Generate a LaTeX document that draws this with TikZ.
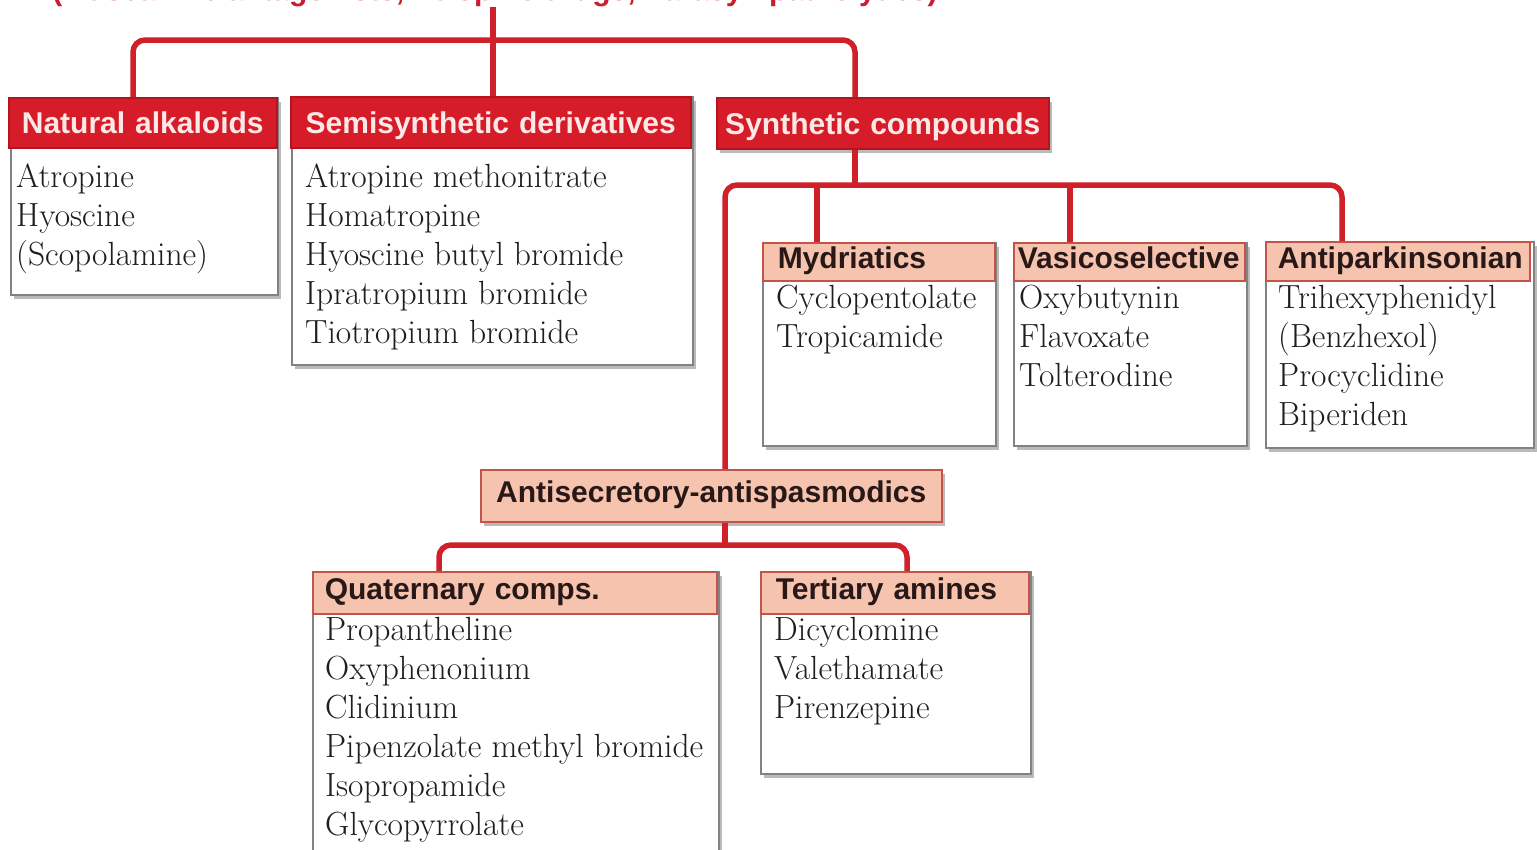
\documentclass[tikz,border=0pt]{standalone}
\usepackage{fontspec}
\newfontfamily\hsf{Liberation Sans}
\usetikzlibrary{shadows}
\definecolor{redline}{RGB}{208,32,42}
\definecolor{redhead}{RGB}{214,28,40}
\definecolor{reddark}{RGB}{180,20,30}
\definecolor{headtext}{RGB}{252,232,230}
\definecolor{pinkfill}{RGB}{246,196,174}
\definecolor{pinkborder}{RGB}{196,84,74}
\definecolor{headdark}{RGB}{40,24,24}
\definecolor{boxgray}{RGB}{130,130,130}
\definecolor{itemcol}{RGB}{30,30,30}
\definecolor{titlered}{RGB}{200,30,45}
\tikzset{
  conn/.style={draw=redline, line width=5.5pt, rounded corners=12pt},
  hdfont/.style={font=\hsf\bfseries\fontsize{30}{36}\selectfont},
  redhead/.style={hdfont, draw=reddark, line width=1.5pt, fill=redhead, text=headtext,
    anchor=north west, inner ysep=0pt, inner xsep=0pt, text height=22pt, text depth=0pt, align=center},
  pinkhead/.style={hdfont, draw=pinkborder, line width=1.5pt, fill=pinkfill, text=headdark,
    anchor=north west, inner ysep=0pt, text height=22pt, text depth=8pt, align=left},
  bodybox/.style={draw=boxgray, line width=2pt, fill=white, anchor=north west, inner sep=0pt},
  shad/.style={drop shadow={shadow xshift=3pt, shadow yshift=-4pt, fill=black!45, opacity=.6}},
  items/.style={anchor=north west, inner sep=0pt, align=left, text=itemcol,
    font=\fontsize{33.5}{39}\selectfont},
}
\begin{document}
\begin{tikzpicture}[x=1pt, y=-1pt]
\clip (0,0) rectangle (1537,849);
\fill[white] (0,0) rectangle (1537,849);

% title (cut off at the top, as in the reference)
\node[anchor=base, inner sep=0pt, text=titlered, font=\hsf\bfseries\fontsize{30}{36}\selectfont]
  (title) at (495,0.5) {(Muscarinic antagonists, Atropine drugs, Parasympatholytics)};

% junction coordinates
\coordinate (j1) at (493,40);
\coordinate (j2) at (855,185);
\coordinate (j3) at (725,545);

% ---- top level cards
\node[bodybox, shad, minimum width=267pt, minimum height=197pt] (natb) at (10,97) {};
\node[redhead, minimum width=268pt, minimum height=50pt, text width=268pt] (nat) at (8,97) {Natural alkaloids};
\node[items] (natt) at (16,159.7) {\strut Atropine\\Hyoscine\\(Scopolamine)};

\node[bodybox, shad, minimum width=401pt, minimum height=268pt] (semib) at (291,96) {};
\node[redhead, minimum width=400pt, minimum height=51pt, text width=400pt] (semi) at (290,96) {Semisynthetic derivatives};
\node[items] (semit) at (305,159.7) {\strut Atropine methonitrate\\Homatropine\\Hyoscine butyl bromide\\Ipratropium bromide\\Tiotropium bromide};

\node[redhead, shad, minimum width=332pt, minimum height=51pt, text width=332pt] (syn) at (716,97) {Synthetic compounds};

% ---- synthetic sub-cards
\node[bodybox, shad, minimum width=233pt, minimum height=203pt] (mydb) at (762,242) {};
\node[pinkhead, minimum width=232pt, minimum height=38pt, inner xsep=15pt, text width=202pt] (myd) at (762,242) {Mydriatics};
\node[items] (mydt) at (776,280.7) {\strut Cyclopentolate\\Tropicamide};

\node[bodybox, shad, minimum width=233pt, minimum height=203pt] (vasb) at (1013,242) {};
\node[pinkhead, minimum width=231pt, minimum height=38pt, inner xsep=4pt, text width=223pt] (vas) at (1013,242) {Vasicoselective};
\node[items] (vast) at (1019,280.7) {\strut Oxybutynin\\Flavoxate\\Tolterodine};

\node[bodybox, shad, minimum width=268pt, minimum height=206pt] (antipb) at (1265,241) {};
\node[pinkhead, minimum width=264pt, minimum height=39pt, inner xsep=12pt, text width=240pt] (antip) at (1265,241) {Antiparkinsonian};
\node[items] (antipt) at (1278,280.7) {\strut Trihexyphenidyl\\(Benzhexol)\\Procyclidine\\Biperiden};

\node[pinkhead, shad, minimum width=461pt, minimum height=52pt, inner xsep=0pt, text width=461pt, align=center] (antisec) at (480,469) {Antisecretory-antispasmodics};

% ---- antisecretory sub-cards
\node[bodybox, shad, minimum width=406pt, minimum height=299pt] (quatb) at (312,571) {};
\node[pinkhead, minimum width=404pt, minimum height=42pt, inner xsep=12pt, text width=380pt] (quat) at (312,571) {Quaternary comps.};
\node[items] (quatt) at (325,612.7) {\strut Propantheline\\Oxyphenonium\\Clidinium\\Pipenzolate methyl bromide\\Isopropamide\\Glycopyrrolate};

\node[bodybox, shad, minimum width=270pt, minimum height=202pt] (tertb) at (760,571) {};
\node[pinkhead, minimum width=268pt, minimum height=42pt, inner xsep=15pt, text width=238pt] (tert) at (760,571) {Tertiary amines};
\node[items] (tertt) at (774,612.7) {\strut Dicyclomine\\Valethamate\\Pirenzepine};

% ---- connectors
\draw[conn] (title.south -| j1) -- (j1);
\draw[conn] (nat.north -| 133,0) |- (j1) -| (syn.north -| j2);
\draw[conn] (j1) -- (semi.north -| j1);

\draw[conn] (syn.south -| j2) -- (j2);
\draw[conn] (antisec.north -| j3) |- (j2) -| (antip.north -| 1342,0);
\draw[conn] (myd.north -| 817,0) -- (817,185);
\draw[conn] (vas.north -| 1070,0) -- (1070,185);

\draw[conn] (antisec.south -| j3) -- (j3);
\draw[conn] (quat.north -| 439,0) |- (j3) -| (tert.north -| 907,0);
\end{tikzpicture}
\end{document}
